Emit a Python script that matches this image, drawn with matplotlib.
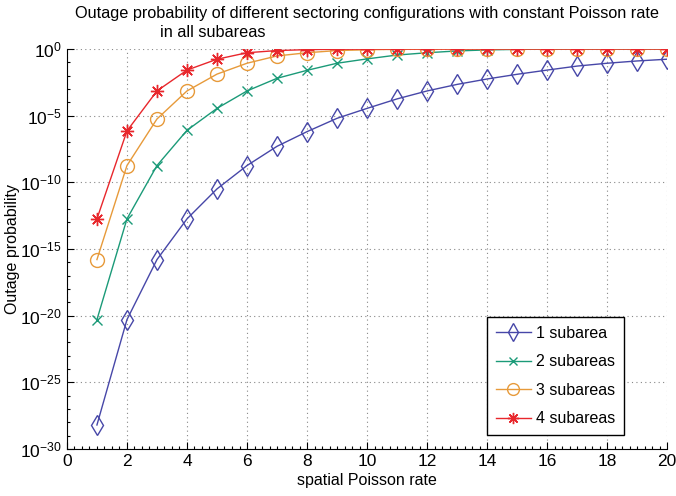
import matplotlib
matplotlib.use('Agg')
import matplotlib.pyplot as plt
from matplotlib.ticker import FixedLocator, FuncFormatter, MultipleLocator
import numpy as np

plt.rcParams['font.family'] = ['Liberation Sans', 'DejaVu Sans']
plt.rcParams['mathtext.fontset'] = 'custom'
plt.rcParams['mathtext.rm'] = 'Liberation Sans'
plt.rcParams['mathtext.it'] = 'Liberation Sans'

# spatial Poisson rate
rate = list(range(1, 21))

# outage probability
p_1 = [6.3e-29, 5.0e-21, 1.6e-16, 1.8e-13, 3.2e-11, 1.8e-9, 5.0e-8, 6.3e-7,
       6.3e-6, 3.5e-5, 1.8e-4, 7.1e-4, 2.2e-3, 5.6e-3, 1.26e-2, 2.6e-2,
       5.2e-2, 8.5e-2, 0.126, 0.17]
p_2 = [5.0e-21, 1.8e-13, 1.8e-9, 7.9e-7, 3.5e-5, 7.1e-4, 6.3e-3, 2.5e-2,
       8.5e-2, 0.18, 0.35, 0.52, 0.71, 0.85, 0.93, 0.97, 0.985, 0.993,
       0.997, 0.999]
p_3 = [1.6e-16, 1.8e-9, 5.6e-6, 7.1e-4, 1.3e-2, 8.5e-2, 0.30, 0.52, 0.76,
       0.87, 0.94, 0.97, 0.985, 0.993, 0.997, 0.999, 1.0, 1.0, 1.0, 1.0]
p_4 = [1.8e-13, 7.1e-7, 7.1e-4, 2.6e-2, 0.17, 0.52, 0.76, 0.89, 0.95, 0.98,
       0.99, 0.997, 0.999, 1.0, 1.0, 1.0, 1.0, 1.0, 1.0, 1.0]

labels = ['1 subarea', '2 subareas', '3 subareas', '4 subareas']
y_ticks = [1e-30, 1e-25, 1e-20, 1e-15, 1e-10, 1e-5, 1e0]

fig = plt.figure(figsize=(6.76, 4.96), dpi=100)
ax = fig.add_axes([0.099, 0.0948, 0.888, 0.8065])

ax.plot(rate, p_1, color='#4747a8', lw=1, marker='d', ms=10.5, mfc='none',
        mew=1, label=labels[0])
ax.plot(rate, p_2, color='#1b9a78', lw=1, marker='x', ms=7, mew=1,
        label=labels[1])
ax.plot(rate, p_3, color='#e79a3a', lw=1, marker='o', ms=10, mfc='none',
        mew=1, label=labels[2])
ax.plot(rate, p_4, color='#e8272c', lw=1, marker=(8, 2, 0), ms=9.5, mew=1,
        label=labels[3])

ax.set_yscale('log')
ax.set_xlim(0, 20)
ax.set_ylim(1e-30, 1e0)
ax.xaxis.set_major_locator(MultipleLocator(2))
ax.xaxis.set_minor_locator(MultipleLocator(0.25))
ax.yaxis.set_major_locator(FixedLocator(y_ticks))
ax.yaxis.set_minor_locator(FixedLocator([10.0 ** k for k in range(-30, 1)]))
ax.yaxis.set_major_formatter(FuncFormatter(
    lambda v, pos: r'$10^{%d}$' % int(round(np.log10(v)))))
ax.yaxis.set_minor_formatter(FuncFormatter(lambda v, pos: ''))

ax.grid(True, which='major', linestyle=(0, (1, 3)), color='#888888', lw=0.8)
for side in ['top', 'right']:
    ax.spines[side].set_visible(False)
ax.tick_params(which='both', direction='in', labelsize=12.5, width=0.8)
ax.tick_params(which='major', length=5)
ax.tick_params(which='minor', length=2.5)

ax.set_xlabel('spatial Poisson rate', fontsize=11.5, labelpad=3)
ax.set_ylabel('Outage probability', fontsize=11.5, labelpad=0)

fig.text(0.543, 0.972, 'Outage probability of different sectoring '
         'configurations with constant Poisson rate', ha='center',
         va='center', fontsize=11.7)
fig.text(0.315, 0.934, 'in all subareas', ha='center', va='center',
         fontsize=11.7)

leg = ax.legend(loc='upper left', bbox_to_anchor=(0.70, 0.33), fontsize=11.5,
                fancybox=False, edgecolor='black', framealpha=1,
                handlelength=2.2, labelspacing=0.85, borderpad=0.55,
                handletextpad=0.3, borderaxespad=0, markerscale=0.85)
leg.get_frame().set_linewidth(1)

fig.savefig('out.png', dpi=100)
plt.close()
